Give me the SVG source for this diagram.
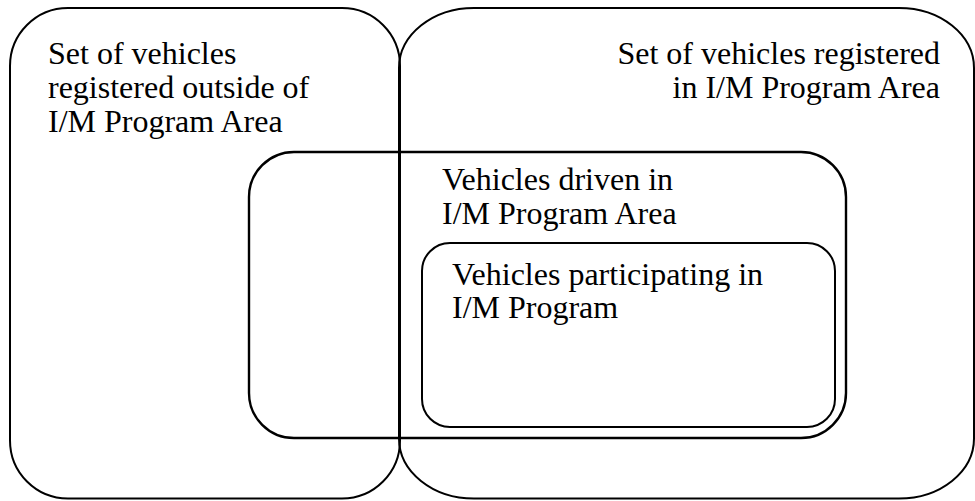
<svg xmlns="http://www.w3.org/2000/svg" width="975" height="501" viewBox="0 0 975 501">
<style>
.box{fill:none;stroke:#000;stroke-width:2}
</style>
<rect width="975" height="501" fill="#fff"/>
<g font-family="'Liberation Serif', 'Times New Roman', Tinos, 'DejaVu Serif', serif" font-size="32" fill="#000">
<g id="outside">
<rect class="box" x="10" y="8" width="390" height="490.5" rx="58" ry="58"/>
<text x="48" y="63.5">Set of vehicles</text>
<text x="48" y="97.5">registered outside of</text>
<text x="48" y="131.5">I/M Program Area</text>
</g>
<g id="inside">
<rect class="box" x="399" y="8" width="575" height="490.5" rx="75" ry="60"/>
<text x="940" y="64" text-anchor="end">Set of vehicles registered</text>
<text x="940" y="98" text-anchor="end">in I/M Program Area</text>
</g>
<g id="driven">
<rect class="box" x="249" y="152" width="597" height="286" rx="45" ry="45" style="stroke-width:2.4"/>
<text x="442" y="189.5">Vehicles driven in</text>
<text x="442" y="223.5">I/M Program Area</text>
</g>
<g id="participating">
<rect class="box" x="422" y="243" width="413" height="184" rx="28" ry="28"/>
<text x="452" y="284.5">Vehicles participating in</text>
<text x="452" y="318">I/M Program</text>
</g>
</g>
<g id="connectors"></g>
</svg>
